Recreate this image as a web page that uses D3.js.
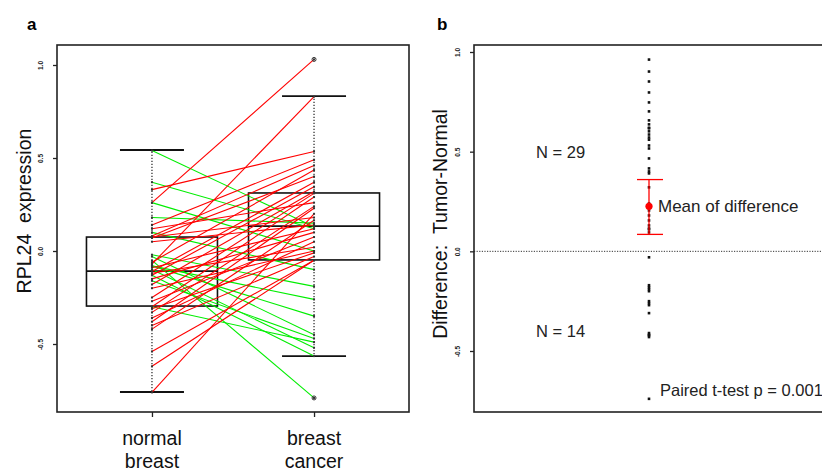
<!DOCTYPE html>
<html>
<head>
<meta charset="utf-8">
<script src="https://cdn.jsdelivr.net/npm/d3@7"></script>
<style>
  html, body { margin: 0; padding: 0; background: #fff; }
  svg { display: block; font-family: "Liberation Sans", Arial, sans-serif; }
</style>
</head>
<body>
<svg id="chart" width="822" height="473"></svg>
<script>
// ---------------- data ----------------
const categories = ["normal breast", "breast cancer"];
// paired expression values (normal, cancer) for 43 samples
const normalValues = [
  0.54, 0.37, 0.18, 0.26, 0.10, -0.02, -0.08, -0.08, -0.03, -0.16, -0.30, -0.10, -0.13, -0.05,
  0.26, -0.07, 0.33, -0.76,
  0.14, 0.12, 0.08, 0.075, 0.07, 0.05, -0.06, -0.09, -0.11, -0.12, -0.13, -0.15, -0.18, -0.20,
  -0.25, -0.27, -0.30, -0.31, -0.33, -0.36, -0.38, -0.40, -0.42, -0.54, -0.62
];
const cancerValues = [
  0.13, 0.12, 0.15, 0.00, -0.10, -0.19, -0.26, -0.35, -0.45, -0.47, -0.49, -0.52, -0.565, -0.79,
  1.03, 0.83, 0.535, 0.20,
  0.49, 0.26, 0.46, 0.18, 0.40, 0.14, 0.435, 0.12, 0.37, 0.02, 0.345, 0.10, 0.32, 0.00,
  0.31, 0.075, 0.29, -0.01, 0.24, 0.05, 0.23, -0.03, 0.165, -0.05, -0.05
];
// box statistics per category: [lower whisker, Q1, median, Q3, upper whisker]
const normalBox = [-0.758, -0.296, -0.108, 0.075, 0.543];
const cancerBox = [-0.565, -0.048, 0.134, 0.312, 0.833];
const cancerOutliers = [1.03, -0.79];
// panel b: differences tumor - normal
const differences = [
  0.962, 0.902, 0.852, 0.797, 0.747, 0.702, 0.657, 0.637, 0.62, 0.617, 0.602, 0.586, 0.571, 0.56,
  0.531, 0.516, 0.466, 0.416, 0.401, 0.391, 0.321, 0.24, 0.205, 0.18, 0.155, 0.13, 0.115, 0.11, 0.095,
  -0.03, -0.17, -0.18, -0.19, -0.20, -0.25, -0.26, -0.27, -0.31, -0.41, -0.42, -0.42, -0.43, -0.74
];
const meanDiff = [0.226];
const meanCI = [0.085, 0.36];
const yTicks = [-0.5, 0.0, 0.5, 1.0];
const yTickLabels = ["-0.5", "0.0", "0.5", "1.0"];
const countLabels = ["N = 29", "N = 14"];

// ---------------- drawing ----------------
const svg = d3.select("#chart");
const RED = "#ff0000", GREEN = "#00ee00";
const INK = "#222";

// ===== Panel a =====
const A = { left: 57, right: 409, top: 45, bottom: 412 };
const xA = d3.scalePoint().domain(categories).range([A.left, A.right]).padding(0.586);
const yA = d3.scaleLinear().domain([-0.5, 1.0]).range([344, 65]);
const gA = svg.append("g");

function styleYAxis(g) {
  g.select(".domain").remove();
  g.selectAll(".tick line").attr("stroke", INK).attr("stroke-width", 1.3);
  g.selectAll(".tick text")
    .attr("font-size", 6.5).attr("fill", INK).attr("font-weight", "bold")
    .attr("transform", "rotate(-90)").attr("text-anchor", "middle")
    .attr("x", 0).attr("y", -16).attr("dy", "0.35em");
}

const axA = d3.axisLeft(yA).tickValues(yTicks).tickSize(4).tickFormat((d, i) => yTickLabels[i]);
gA.append("g").attr("transform", `translate(${A.left},0)`).call(axA).call(styleYAxis);

// x axis ticks
const axXA = d3.axisBottom(xA).tickSize(5).tickFormat("");
const axXAg = gA.append("g").attr("transform", `translate(0,${A.bottom})`).call(axXA);
axXAg.select(".domain").remove();
axXAg.selectAll(".tick line").attr("stroke", INK).attr("stroke-width", 1.3);
categories.forEach(c => {
  const words = c.split(" ");
  const t = gA.append("text").attr("x", xA(c)).attr("text-anchor", "middle")
    .attr("font-size", 19.5).attr("fill", "#111");
  words.forEach((w, i) => t.append("tspan").attr("x", xA(c)).attr("y", 445 + i * 23).text(w));
});

// boxes
const boxW = 131, capW = 64;
const boxes = [normalBox, cancerBox];
boxes.forEach((b, i) => {
  const cx = xA(categories[i]);
  const [lw, q1, med, q3, uw] = b;
  gA.append("line").attr("x1", cx).attr("x2", cx).attr("y1", yA(q3)).attr("y2", yA(uw))
    .attr("stroke", INK).attr("stroke-width", 1.2).attr("stroke-dasharray", "1.2,1.8");
  gA.append("line").attr("x1", cx).attr("x2", cx).attr("y1", yA(q1)).attr("y2", yA(lw))
    .attr("stroke", INK).attr("stroke-width", 1.2).attr("stroke-dasharray", "1.2,1.8");
  [lw, uw].forEach(v => gA.append("line").attr("x1", cx - capW / 2).attr("x2", cx + capW / 2)
    .attr("y1", yA(v)).attr("y2", yA(v)).attr("stroke", "#111").attr("stroke-width", 1.8));
  gA.append("rect").attr("x", cx - boxW / 2).attr("y", yA(q3)).attr("width", boxW)
    .attr("height", yA(q1) - yA(q3)).attr("fill", "none").attr("stroke", "#111").attr("stroke-width", 1.6);
  gA.append("line").attr("x1", cx - boxW / 2).attr("x2", cx + boxW / 2)
    .attr("y1", yA(med)).attr("y2", yA(med)).attr("stroke", "#111").attr("stroke-width", 1.6);
});

// paired lines
const pairs = normalValues.map((n, i) => ({ n, c: cancerValues[i] }));
gA.append("g").selectAll("line").data(pairs).join("line")
  .attr("x1", xA(categories[0])).attr("x2", xA(categories[1]))
  .attr("y1", d => yA(d.n)).attr("y2", d => yA(d.c))
  .attr("stroke", d => d.c >= d.n ? RED : GREEN).attr("stroke-width", 1.1);
// endpoint dots
gA.append("g").selectAll("rect").data(normalValues).join("rect")
  .attr("x", xA(categories[0]) - 1).attr("y", d => yA(d) - 1).attr("width", 2).attr("height", 2).attr("fill", "#333");
gA.append("g").selectAll("rect").data(cancerValues).join("rect")
  .attr("x", xA(categories[1]) - 1).attr("y", d => yA(d) - 1).attr("width", 2).attr("height", 2).attr("fill", "#333");
gA.append("g").selectAll("circle").data(cancerOutliers).join("circle")
  .attr("cx", xA(categories[1])).attr("cy", d => yA(d)).attr("r", 2)
  .attr("fill", "none").attr("stroke", "#333").attr("stroke-width", 1);

// frame
gA.append("rect").attr("x", A.left).attr("y", A.top).attr("width", A.right - A.left)
  .attr("height", A.bottom - A.top).attr("fill", "none").attr("stroke", INK).attr("stroke-width", 1.6);

gA.append("text").attr("transform", `translate(31,211) rotate(-90)`).attr("text-anchor", "middle")
  .attr("font-size", 19.5).attr("fill", "#111").text("RPL24\u00a0\u00a0expression");
svg.append("text").attr("x", 27).attr("y", 30).attr("font-size", 17).attr("font-weight", "bold").text("a");

// ===== Panel b =====
const B = { left: 474, right: 824, top: 45, bottom: 412 };
const xB = d3.scalePoint().domain(["difference"]).range([B.left, B.right]).padding(0.5);
const yB = d3.scaleLinear().domain([-0.5, 1.0]).range([351, 52]);
const gB = svg.append("g");

const axB = d3.axisLeft(yB).tickValues(yTicks).tickSize(4).tickFormat((d, i) => yTickLabels[i]);
gB.append("g").attr("transform", `translate(${B.left},0)`).call(axB).call(styleYAxis);

gB.append("line").attr("x1", B.left).attr("x2", 822).attr("y1", yB(0)).attr("y2", yB(0))
  .attr("stroke", "#333").attr("stroke-width", 1).attr("stroke-dasharray", "1.2,1.4");

const cxB = xB("difference");
gB.append("g").selectAll("rect").data(differences).join("rect")
  .attr("x", cxB - 1.3).attr("y", d => yB(d) - 1.3).attr("width", 2.6).attr("height", 2.6).attr("fill", "#111");

// mean & CI
gB.append("line").attr("x1", cxB).attr("x2", cxB).attr("y1", yB(meanCI[0])).attr("y2", yB(meanCI[1]))
  .attr("stroke", RED).attr("stroke-width", 1.3);
meanCI.forEach(v => gB.append("line").attr("x1", cxB - 12).attr("x2", cxB + 14)
  .attr("y1", yB(v)).attr("y2", yB(v)).attr("stroke", RED).attr("stroke-width", 1.3));
gB.selectAll("circle.mean").data(meanDiff).join("circle")
  .attr("cx", cxB).attr("cy", d => yB(d)).attr("r", 3.6).attr("fill", RED);
gB.append("text").attr("x", cxB + 9).attr("y", yB(meanDiff[0])).attr("dy", "0.36em")
  .attr("font-size", 17).attr("fill", INK).text("Mean of difference");

gB.append("text").attr("x", 536).attr("y", yB(0.5)).attr("dy", "0.36em").attr("font-size", 16.5)
  .attr("fill", INK).text(countLabels[0]);
gB.append("text").attr("x", 536).attr("y", 331).attr("dy", "0.36em").attr("font-size", 16.5)
  .attr("fill", INK).text(countLabels[1]);
gB.append("text").attr("x", 660).attr("y", 390).attr("dy", "0.36em").attr("font-size", 16.5)
  .attr("fill", INK).text("Paired t-test p = 0.001");

gB.append("rect").attr("x", B.left).attr("y", B.top).attr("width", B.right - B.left + 10)
  .attr("height", B.bottom - B.top).attr("fill", "none").attr("stroke", INK).attr("stroke-width", 1.6);

gB.append("text").attr("transform", `translate(447,224) rotate(-90)`).attr("text-anchor", "middle")
  .attr("font-size", 19.5).attr("fill", "#111").text("Difference:\u00a0\u00a0Tumor-Normal");
svg.append("text").attr("x", 437).attr("y", 30).attr("font-size", 17).attr("font-weight", "bold").text("b");
</script>
</body>
</html>
